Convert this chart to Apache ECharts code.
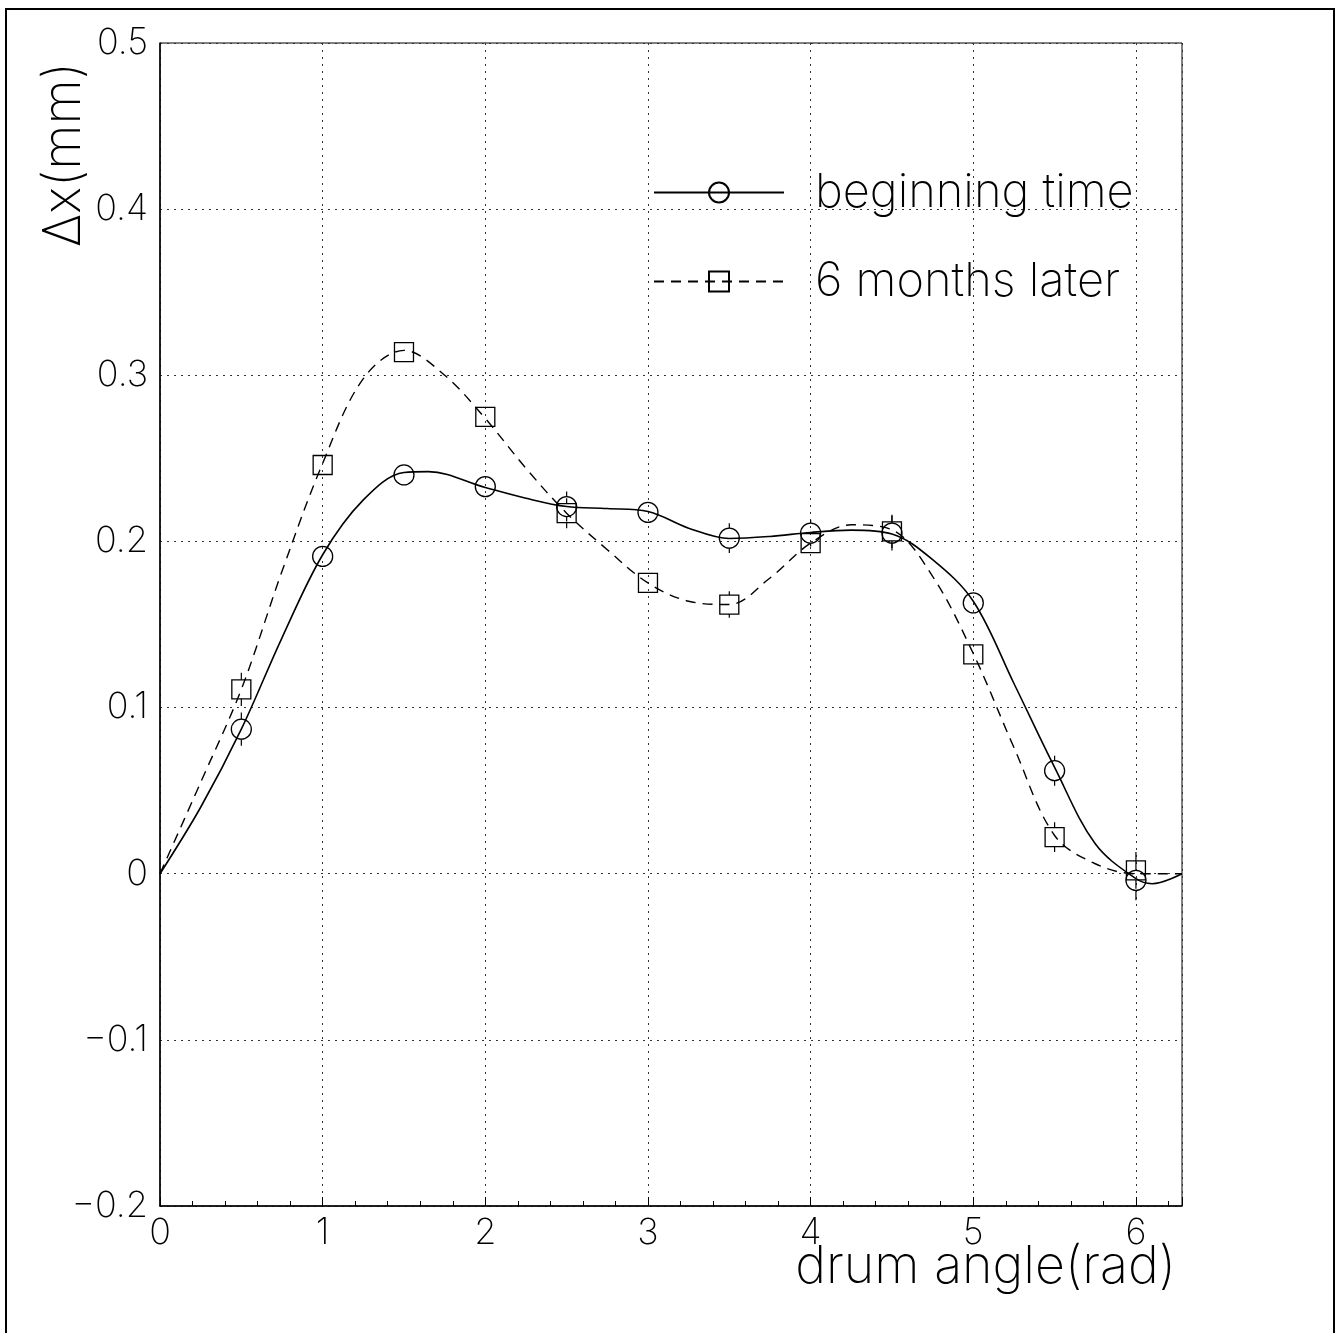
<!DOCTYPE html>
<html>
<head>
<meta charset="utf-8">
<script src="https://cdn.jsdelivr.net/npm/echarts@6/dist/echarts.min.js"></script>
<style>
  html, body { margin: 0; padding: 0; background: #fff; }
  #chart { width: 1339px; height: 1333px; }
</style>
</head>
<body>
<div id="chart"></div>
<script>
// measured points (drum angle in rad, delta x in mm)
var angles = [0.5, 1, 1.5, 2, 2.5, 3, 3.5, 4, 4.5, 5, 5.5, 6];
var beginVals = [0.087, 0.191, 0.240, 0.233, 0.221, 0.2175, 0.202, 0.205, 0.205, 0.163, 0.062, -0.004];
var beginErr = [0.01, 0.005, 0.005, 0.005, 0.009, 0.006, 0.009, 0.008, 0.0105, 0.006, 0.009, 0.012];
var laterVals = [0.111, 0.246, 0.314, 0.275, 0.217, 0.175, 0.162, 0.199, 0.206, 0.132, 0.022, 0.002];
var laterErr = [0.01, 0.005, 0.005, 0.005, 0.009, 0.006, 0.008, 0.006, 0.01, 0.006, 0.009, 0.011];

// fitted curves
var beginCurveX = [0, 0.25, 0.5, 0.75, 1, 1.25, 1.5, 1.65, 2, 2.25, 2.5, 2.75, 3, 3.25, 3.5, 3.75, 4, 4.25, 4.5, 4.75, 5, 5.25, 5.5, 5.75, 6, 6.1, 6.2832];
var beginCurveY = [0, 0.040, 0.087, 0.142, 0.192, 0.225, 0.2415, 0.242, 0.2325, 0.226, 0.221, 0.2198, 0.218, 0.208, 0.2018, 0.203, 0.2054, 0.2068, 0.2045, 0.189, 0.164, 0.1145, 0.064, 0.018, -0.003, -0.006, 0];
var laterCurveX = [0, 0.25, 0.5, 0.75, 1, 1.25, 1.5, 1.75, 2, 2.25, 2.5, 2.75, 3, 3.25, 3.5, 3.75, 4, 4.25, 4.5, 4.75, 5, 5.25, 5.5, 5.75, 6, 6.2832];
var laterCurveY = [0, 0.055, 0.111, 0.182, 0.247, 0.298, 0.315, 0.300, 0.274, 0.244, 0.217, 0.195, 0.175, 0.164, 0.162, 0.178, 0.199, 0.210, 0.207, 0.179, 0.1325, 0.076, 0.023, 0.006, 0.0, 0];

var seriesNames = ['beginning time', '6 months later'];
var xTitle = 'drum angle(rad)';
var yTitle = '\u0394x(mm)';

var FONT = 'Inter';
var WEIGHT = 200;

function zip(xs, ys) {
    return xs.map(function (x, i) { return [x, ys[i]]; });
}
function zip3(xs, ys, es) {
    return xs.map(function (x, i) { return [x, ys[i], es[i]]; });
}

// error bar parts outside the marker only
function errorBars(halfSize) {
    return function (params, api) {
        var x = api.value(0), y = api.value(1), e = api.value(2);
        var c = api.coord([x, y]);
        var top = api.coord([x, y + e]);
        var bot = api.coord([x, y - e]);
        var kids = [];
        var st = { stroke: '#000', lineWidth: 1.2 };
        if (c[1] - top[1] > halfSize) {
            kids.push({ type: 'line', shape: { x1: c[0], y1: top[1], x2: c[0], y2: c[1] - halfSize }, style: st });
        }
        if (bot[1] - c[1] > halfSize) {
            kids.push({ type: 'line', shape: { x1: c[0], y1: c[1] + halfSize, x2: c[0], y2: bot[1] }, style: st });
        }
        return { type: 'group', children: kids };
    };
}

var myChart = echarts.init(document.getElementById('chart'));

var option = {
    animation: false,
    backgroundColor: '#fff',
    grid: {
        left: 160, right: 157, top: 43, bottom: 127,
        show: true, borderColor: '#000', borderWidth: 1
    },
    legend: {
        data: seriesNames,
        orient: 'vertical',
        left: 648,
        top: 164,
        itemWidth: 130,
        itemHeight: 25,
        itemGap: 42,
        selectedMode: false,
        textStyle: { fontFamily: FONT, fontWeight: WEIGHT, fontSize: 47, color: '#000', padding: [0, 0, 0, 26] }
    },
    xAxis: {
        type: 'value',
        min: 0,
        max: 6.2832,
        interval: 1,
        axisLine: { onZero: false, lineStyle: { color: '#000', width: 1.5 } },
        axisTick: { inside: true, length: 9, lineStyle: { color: '#000' } },
        minorTick: { show: true, splitNumber: 5, length: 5, lineStyle: { color: '#000' } },
        splitLine: { lineStyle: { color: '#333', type: [2, 5], width: 1 } },
        axisLabel: {
            showMaxLabel: false,
            margin: 9,
            fontFamily: FONT, fontWeight: WEIGHT, fontSize: 36, color: '#000'
        }
    },
    yAxis: {
        type: 'value',
        min: -0.2,
        max: 0.5,
        interval: 0.1,
        axisLine: { lineStyle: { color: '#000', width: 1.5 } },
        axisTick: { show: false },
        splitLine: { lineStyle: { color: '#333', type: [2, 5], width: 1 } },
        axisLabel: {
            margin: 12,
            fontFamily: FONT, fontWeight: WEIGHT, fontSize: 36, color: '#000',
            formatter: function (v) {
                var s = String(Math.round(v * 10) / 10);
                return s.replace('-', '\u2212');
            }
        }
    },
    graphic: [
        {
            type: 'rect',
            shape: { x: 6, y: 9, width: 1328, height: 1340 },
            style: { fill: 'none', stroke: '#000', lineWidth: 2 },
            silent: true
        },
        {
            type: 'text',
            right: 1339 - 1176,
            top: 1241,
            style: { text: xTitle, font: WEIGHT + ' 52px ' + FONT, fill: '#000' }
        },
        {
            type: 'text',
            x: 64,
            y: 247,
            rotation: Math.PI / 2,
            style: { text: yTitle, font: WEIGHT + ' 52px ' + FONT, fill: '#000', textAlign: 'left', textVerticalAlign: 'middle' }
        }
    ],
    series: [
        {
            name: seriesNames[0],
            type: 'line',
            data: zip(beginCurveX, beginCurveY),
            smooth: 0.35,
            symbol: 'circle',
            symbolSize: 20,
            showSymbol: false,
            silent: true,
            itemStyle: { color: 'rgba(0,0,0,0)', borderColor: '#000', borderWidth: 1.3 },
            lineStyle: { color: '#000', width: 1.6 },
            z: 2
        },
        {
            name: seriesNames[1],
            type: 'line',
            data: zip(laterCurveX, laterCurveY),
            smooth: 0.35,
            symbol: 'rect',
            symbolSize: 20,
            showSymbol: false,
            silent: true,
            itemStyle: { color: 'rgba(0,0,0,0)', borderColor: '#000', borderWidth: 1.3 },
            lineStyle: { color: '#000', width: 1.4, type: [10, 7] },
            z: 2
        },
        {
            name: 'begin points',
            type: 'scatter',
            data: zip(angles, beginVals),
            symbol: 'circle',
            symbolSize: 20,
            silent: true,
            itemStyle: { color: 'rgba(0,0,0,0)', borderColor: '#000', borderWidth: 1.3, opacity: 1 },
            z: 3
        },
        {
            name: 'later points',
            type: 'scatter',
            data: zip(angles, laterVals),
            symbol: 'rect',
            symbolSize: 19,
            silent: true,
            itemStyle: { color: 'rgba(0,0,0,0)', borderColor: '#000', borderWidth: 1.3, opacity: 1 },
            z: 3
        },
        {
            name: 'begin errors',
            type: 'custom',
            data: zip3(angles, beginVals, beginErr),
            renderItem: errorBars(10),
            silent: true,
            z: 3
        },
        {
            name: 'later errors',
            type: 'custom',
            data: zip3(angles, laterVals, laterErr),
            renderItem: errorBars(9.5),
            silent: true,
            z: 3
        }
    ]
};

myChart.setOption(option);
</script>
</body>
</html>
